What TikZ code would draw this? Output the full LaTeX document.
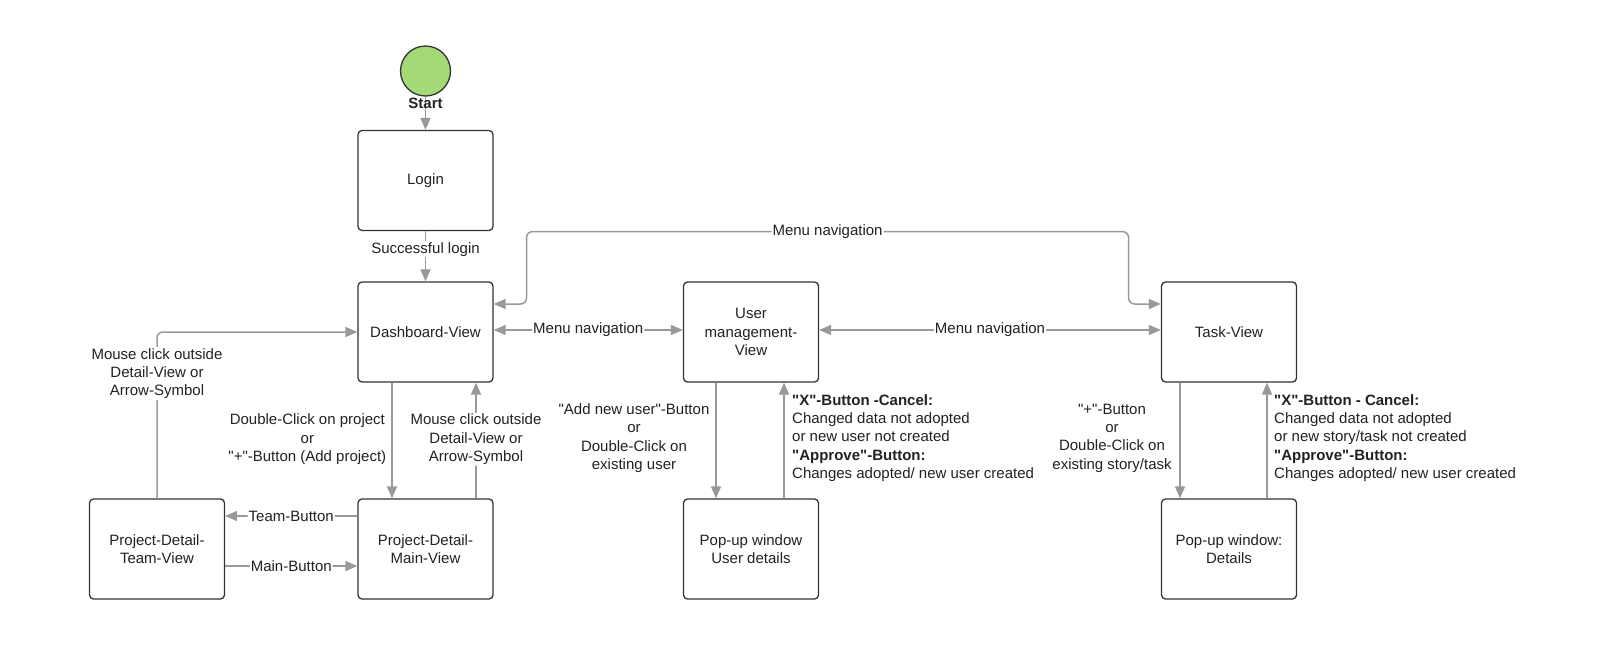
\documentclass[tikz,border=0pt]{standalone}
\usepackage{fontspec}
\setmainfont{Liberation Sans}
\usetikzlibrary{arrows.meta,calc}
\definecolor{linegray}{HTML}{999999}
\definecolor{boxline}{HTML}{333333}
\definecolor{startgreen}{HTML}{A3D977}
\definecolor{txt}{HTML}{222222}
\font\qfont="Liberation Sans" at 15pt
\font\qfontb="Liberation Sans/B" at 15pt
\newcommand\dq{{\qfont\char34}}
\newcommand\dqb{{\qfontb\char34}}
\begin{document}
\begin{tikzpicture}[x=1pt,y=-1pt,
  font=\fontsize{15}{18.4}\selectfont, text=txt,
  state/.style={draw=boxline, line width=1.3pt, rounded corners=4pt,
    minimum width=135pt, minimum height=100pt, align=center, fill=white, inner sep=2pt},
  conn/.style={draw=linegray, line width=1.5pt, rounded corners=6pt,
    -{Triangle[length=12pt,width=10pt]}},
  biconn/.style={draw=linegray, line width=1.5pt, rounded corners=6pt,
    {Triangle[length=12pt,width=10pt]}-{Triangle[length=12pt,width=10pt]}},
  lbl/.style={fill=white, inner sep=1pt, align=center},
  note/.style={align=left, inner sep=0pt}]
\useasboundingbox[fill=white] (0,0) rectangle (1600,646);

% nodes
\node[circle, draw=boxline, line width=1.3pt, fill=startgreen, minimum size=50pt, inner sep=0pt] (start) at (425.5,71) {};
\node[state] (login) at (425.5,180.5) {Login};
\node[state] (dash) at (425.5,332) {Dashboard-View};
\node[state] (user) at (751,332) {User\\management-\\View};
\node[state] (task) at (1229,332) {Task-View};
\node[state] (team) at (157,549) {Project-Detail-\\Team-View};
\node[state] (main) at (425.5,549) {Project-Detail-\\Main-View};
\node[state] (popu) at (751,549) {Pop-up window\\User details};
\node[state] (popd) at (1229,549) {Pop-up window:\\Details};

\coordinate (loopL) at (526.5,231.6);
\coordinate (loopR) at (1128.6,231.6);

% connectors
\draw[conn] (start) -- (login);
\node[font=\fontsize{15}{18}\selectfont\bfseries] (startlbl) at (425.5,103) {Start};
\draw[conn] (login) -- node[lbl, pos=.36]{Successful login} (dash);
\draw[conn] (team.north) |- node[lbl, pos=.375]{Mouse click outside\\Detail-View or\\Arrow-Symbol} (dash.west);
\draw[conn] ([xshift=-33.5pt]dash.south) -- node[left, align=center, inner sep=5pt, pos=.49]{Double-Click on project\\or\\\dq+\dq-Button (Add project)} ([xshift=-33.5pt]main.north);
\draw[conn] ([xshift=50.5pt]main.north) -- node[lbl, pos=.51]{Mouse click outside\\Detail-View or\\Arrow-Symbol} ([xshift=50.5pt]dash.south);
\draw[conn] ([yshift=33pt]main.west) -- node[lbl]{Team-Button} ([yshift=33pt]team.east);
\draw[conn] ([yshift=-17pt]team.east) -- node[lbl]{Main-Button} ([yshift=-17pt]main.west);
\draw[biconn] ([yshift=2pt]dash.east) -- node[lbl]{Menu navigation} ([yshift=2pt]user.west);
\draw[biconn] ([yshift=2pt]user.east) -- node[lbl]{Menu navigation} ([yshift=2pt]task.west);
\draw[biconn] ([yshift=28pt]dash.east) -| (loopL) -- node[lbl]{Menu navigation} (loopR) |- ([yshift=28pt]task.west);

\draw[conn] ([xshift=-35pt]user.south) -- ([xshift=-35pt]popu.north);
\draw[conn] ([xshift=33pt]popu.north) -- ([xshift=33pt]user.south);
\draw[conn] ([xshift=-49pt]task.south) -- ([xshift=-49pt]popd.north);
\draw[conn] ([xshift=38pt]popd.north) -- ([xshift=38pt]task.south);

% labels beside the pop-up connectors
\node[align=center, inner sep=0pt] (ulbl) at (634,438) {\dq Add new user\dq-Button\\or\\Double-Click on\\existing user};
\node[note, anchor=west] (urlbl) at (792,438) {\textbf{\dqb X\dqb-Button -Cancel:}\\Changed data not adopted\\or new user not created\\\textbf{\dqb Approve\dqb-Button:}\\Changes adopted/ new user created};
\node[align=center, inner sep=0pt] (tlbl) at (1112,438) {\dq+\dq-Button\\or\\Double-Click on\\existing story/task};
\node[note, anchor=west] (trlbl) at (1274,438) {\textbf{\dqb X\dqb-Button - Cancel:}\\Changed data not adopted\\or new story/task not created\\\textbf{\dqb Approve\dqb-Button:}\\Changes adopted/ new user created};
\end{tikzpicture}
\end{document}
